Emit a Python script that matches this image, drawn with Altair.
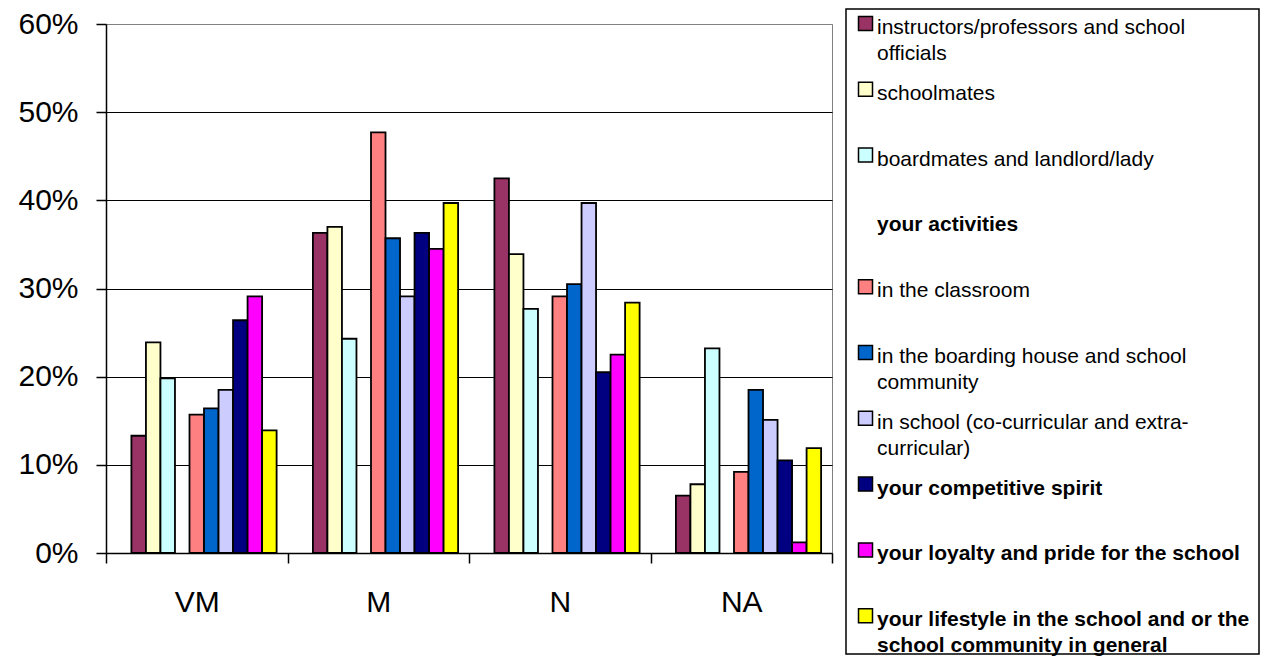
import altair as alt
import pandas as pd

categories = ["VM", "M", "N", "NA"]

series_names = [
    "instructors/professors and school officials",
    "schoolmates",
    "boardmates and landlord/lady",
    "your activities",
    "in the classroom",
    "in the boarding house and school community",
    "in school (co-curricular and extra-curricular)",
    "your competitive spirit",
    "your loyalty and pride for the school",
    "your lifestyle in the school and or the school community in general",
]

legend_labels = [
    "instructors/professors and school\nofficials",
    "schoolmates",
    "boardmates and landlord/lady",
    "your activities",
    "in the classroom",
    "in the boarding house and school\ncommunity",
    "in school (co-curricular and extra-\ncurricular)",
    "your competitive spirit",
    "your loyalty and pride for the school",
    "your lifestyle in the school and or the\nschool community in general",
]

bold_flags = [False, False, False, True, False, False, False, True, True, True]

series_colors = ["#993366", "#FFFFCC", "#CCFFFF", "", "#FF8080",
                 "#0066CC", "#CCCCFF", "#000080", "#FF00FF", "#FFFF00"]

# percentages per category (VM, M, N, NA)
v_instructors = [13.3, 36.3, 42.5, 6.5]
v_schoolmates = [23.9, 37.0, 33.9, 7.8]
v_boardmates = [19.8, 24.3, 27.7, 23.2]
v_activities = None  # heading only, no bars
v_classroom = [15.7, 47.7, 29.1, 9.2]
v_boarding = [16.4, 35.7, 30.5, 18.5]
v_inschool = [18.5, 29.1, 39.7, 15.1]
v_competitive = [26.4, 36.3, 20.5, 10.5]
v_loyalty = [29.1, 34.5, 22.5, 1.2]
v_lifestyle = [13.9, 39.7, 28.4, 11.9]

series_values = [v_instructors, v_schoolmates, v_boardmates, v_activities,
                 v_classroom, v_boarding, v_inschool, v_competitive,
                 v_loyalty, v_lifestyle]

FONT = "Liberation Sans"

rows = []
for name, vals in zip(series_names, series_values):
    if vals is None:
        continue
    for cat, v in zip(categories, vals):
        rows.append({"category": cat, "series": name, "value": v / 100.0})
df = pd.DataFrame(rows)

slot_domain = [" "] + series_names
color_domain = [n for n, c in zip(series_names, series_colors) if c]
color_range = [c for c in series_colors if c]

bars = alt.Chart(df).mark_bar(stroke="black", strokeWidth=1.8).encode(
    x=alt.X(
        "category:N", sort=categories,
        scale=alt.Scale(domain=categories, paddingInner=0, paddingOuter=0),
        axis=alt.Axis(title=None, labelAngle=0, tickBand="extent", tickSize=10,
                      tickWidth=1.5, tickColor="black", domainColor="black",
                      domainWidth=1.5, labelPadding=24, labelFontSize=30,
                      labelFont=FONT, labelColor="black", grid=False),
    ),
    xOffset=alt.XOffset(
        "series:N", sort=slot_domain,
        scale=alt.Scale(domain=slot_domain, paddingInner=0, paddingOuter=0.75),
    ),
    y=alt.Y(
        "value:Q",
        scale=alt.Scale(domain=[0, 0.6], nice=False),
        axis=alt.Axis(title=None, values=[0, 0.1, 0.2, 0.3, 0.4, 0.5, 0.6],
                      format=".0%", tickSize=10, tickWidth=1.5, tickColor="black",
                      domainColor="black", domainWidth=1.5, labelPadding=18,
                      labelFontSize=30, labelFont=FONT, labelColor="black",
                      grid=True, gridWidth=1,
                      gridColor={"condition": {"test": "datum.value >= 0.59",
                                               "value": "#808080"},
                                 "value": "black"}),
    ),
    color=alt.Color("series:N",
                    scale=alt.Scale(domain=color_domain, range=color_range),
                    legend=None),
)

main = alt.layer(bars).properties(
    width=726, height=529,
    view=alt.ViewBackground(stroke="#808080", strokeWidth=1),
)

leg_df = pd.DataFrame({
    "row": list(range(len(series_names))),
    "label": legend_labels,
    "bold": bold_flags,
    "color": series_colors,
})

LEG_W = 413
LEG_H = 630

yenc = alt.Y("row:Q", scale=alt.Scale(domain=[0.1216, 9.696], reverse=True,
                                      nice=False, zero=False),
             axis=None)

frame = alt.Chart(pd.DataFrame({"frame": [0]})).mark_rect(
    filled=False, stroke="black", strokeWidth=1.5
).encode(
    x=alt.value(0), x2=alt.value(LEG_W), y=alt.value(-15), y2=alt.value(LEG_H)
)

swatches = alt.Chart(leg_df).transform_filter("datum.color != ''").mark_square(
    size=196, filled=True, opacity=1, stroke="black", strokeWidth=1.5, yOffset=7.5
).encode(
    x=alt.value(19.5), y=yenc, fill=alt.Fill("color:N", scale=None)
)

text_normal = alt.Chart(leg_df).transform_filter("!datum.bold").mark_text(
    align="left", baseline="alphabetic", dy=18, fontSize=21, lineHeight=26,
    lineBreak="\n", font=FONT, color="black"
).encode(x=alt.value(31), y=yenc, text="label:N")

text_bold = alt.Chart(leg_df).transform_filter("datum.bold").mark_text(
    align="left", baseline="alphabetic", dy=18, fontSize=21, lineHeight=26,
    lineBreak="\n", font=FONT, fontWeight="bold", color="black"
).encode(x=alt.value(31), y=yenc, text="label:N")

legend = alt.layer(frame, swatches, text_normal, text_bold).properties(
    width=LEG_W, height=LEG_H,
    view=alt.ViewBackground(strokeWidth=0, stroke=None),
)

chart = alt.hconcat(main, legend, spacing=11).properties(
    padding={"left": 9, "top": 0, "right": 0, "bottom": 0},
    background="white",
)

chart.save("out.html", embed_options={"renderer": "svg", "actions": False})
